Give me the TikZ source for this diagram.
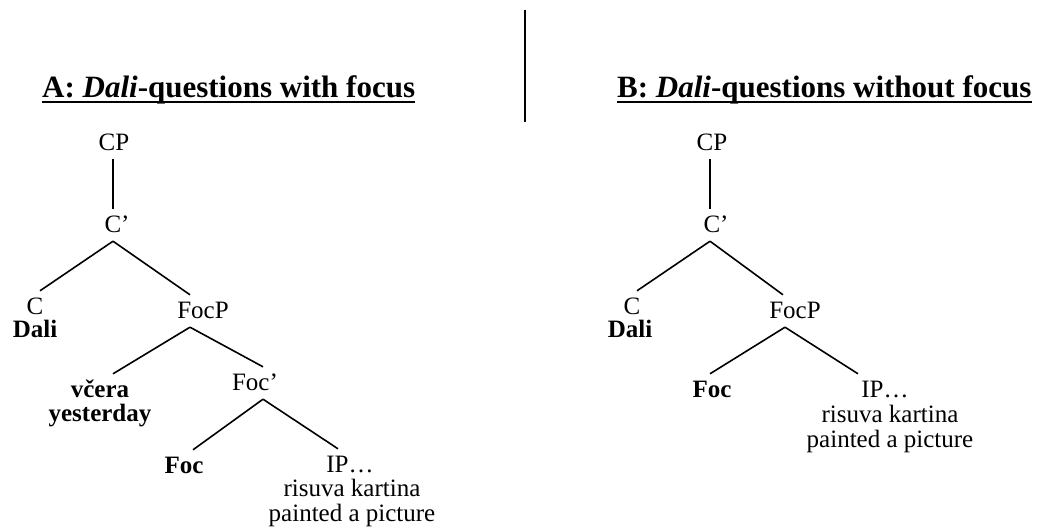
\documentclass[tikz,border=0pt]{standalone}
\usepackage{fontspec}
\setmainfont{Liberation Serif}
\usetikzlibrary{positioning}

\tikzset{
	cat/.style={font=\fontsize{25}{30}\selectfont, anchor=base, inner xsep=0pt, inner ysep=6pt, text height=17pt, text depth=3pt},
	lex/.style={cat, font=\fontsize{25}{30}\selectfont\bfseries},
	gloss/.style={font=\fontsize{25}{30}\selectfont, anchor=base, inner sep=0pt},
	head/.style={font=\fontsize{31}{36}\selectfont\bfseries, anchor=base west, inner sep=0pt},
	branch/.style={line width=1.6pt}
}

\begin{document}
\begin{tikzpicture}[x=1pt, y=-1pt]
	\useasboundingbox (0,0) rectangle (1039,530);
	
	% titles
	\node[head] (ta) at (42,97) {A: \textit{Dali}-questions with focus};
	\node[head] (tb) at (617,97) {B: \textit{Dali}-questions without focus};
	\draw[line width=2pt] ([yshift=-5pt]ta.base west) -- ([yshift=-5pt]ta.base east);
	\draw[line width=2pt] ([yshift=-5pt]tb.base west) -- ([yshift=-5pt]tb.base east);
	\draw[branch] (525,10) -- (525,122);
	
	% tree A
	\node[cat] (cpa) at (114,150) {CP};
	\node[cat] (cbara) at (117,232) {C’};
	\node[cat] (ca) at (35,314) {C};
	\node[gloss, font=\fontsize{25}{30}\selectfont\bfseries] (dalia) at (35,337) {Dali};
	\node[cat] (focpa) at (203,318) {FocP};
	\node[lex] (vcera) at (100,397) {včera};
	\node[gloss, font=\fontsize{25}{30}\selectfont\bfseries] (yest) at (100,421) {yesterday};
	\node[cat] (fcbara) at (255,390) {Foc’};
	\node[lex] (foca) at (184,473) {Foc};
	\node[cat] (ipa) at (350,472) {IP…};
	\node[gloss] (risa) at (352,496) {risuva kartina};
	\node[gloss] (painta) at (352,521) {painted a picture};
	
	\draw[branch] ([xshift=-1pt]cpa.south) -- ([xshift=-4pt]cbara.north);
	\draw[branch] ([xshift=-4pt]cbara.south) -- ([xshift=5pt]ca.north);
	\draw[branch] ([xshift=-4pt]cbara.south) -- ([xshift=-13pt]focpa.north);
	\draw[branch] ([xshift=-13pt]focpa.south) -- ([xshift=13pt]vcera.north);
	\draw[branch] ([xshift=-13pt]focpa.south) -- ([xshift=8pt]fcbara.north);
	\draw[branch] ([xshift=8pt]fcbara.south) -- ([xshift=9pt]foca.north);
	\draw[branch] ([xshift=8pt]fcbara.south) -- ([xshift=-12pt]ipa.north);
	
	% tree B
	\node[cat] (cpb) at (712,150) {CP};
	\node[cat] (cbarb) at (716,232) {C’};
	\node[cat] (cb) at (632,314) {C};
	\node[gloss, font=\fontsize{25}{30}\selectfont\bfseries] (dalib) at (630,337) {Dali};
	\node[cat] (focpb) at (795,318) {FocP};
	\node[lex] (focb) at (712,397) {Foc};
	\node[cat] (ipb) at (885,397) {IP…};
	\node[gloss] (risb) at (890,422) {risuva kartina};
	\node[gloss] (paintb) at (890,447) {painted a picture};
	
	\draw[branch] ([xshift=-2pt]cpb.south) -- ([xshift=-6pt]cbarb.north);
	\draw[branch] ([xshift=-6pt]cbarb.south) -- ([xshift=5pt]cb.north);
	\draw[branch] ([xshift=-6pt]cbarb.south) -- ([xshift=-12pt]focpb.north);
	\draw[branch] ([xshift=-10pt]focpb.south) -- ([xshift=-2pt]focb.north);
	\draw[branch] ([xshift=-10pt]focpb.south) -- ([xshift=-27pt]ipb.north);
\end{tikzpicture}
\end{document}
